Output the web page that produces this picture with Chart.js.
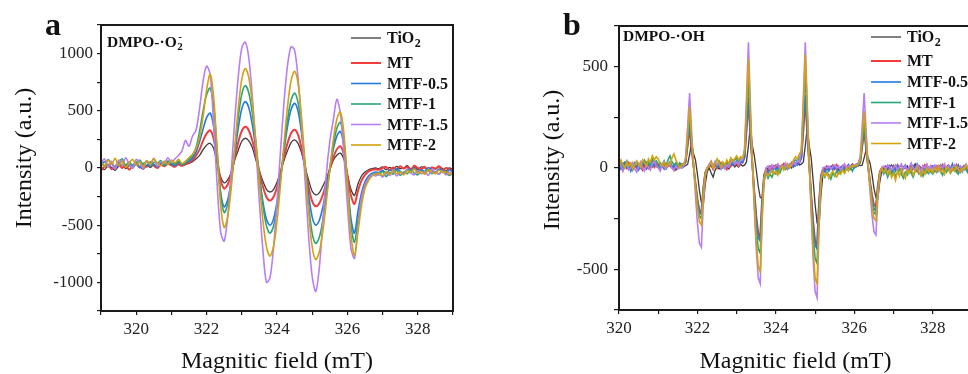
<!DOCTYPE html>
<html>
<head>
<meta charset="utf-8">
<script src="https://cdn.jsdelivr.net/npm/chart.js@4.4.1/dist/chart.umd.min.js"></script>
<style>
  html, body { margin: 0; padding: 0; background: #fff; overflow: hidden; }
  body { width: 968px; height: 374px; position: relative; }
  canvas { position: absolute; top: 0; }
  #chartA { left: 0; }
  #chartB { left: 484px; }
</style>
</head>
<body>
<canvas id="chartA" width="484" height="374"></canvas>
<canvas id="chartB" width="500" height="374"></canvas>
<script>
// EPR spectra, DMPO spin trapping
const samples = ['TiO2', 'MT', 'MTF-0.5', 'MTF-1', 'MTF-1.5', 'MTF-2'];
const colors = ['#3b3b3b', '#f23c3c', '#2479e3', '#27a57c', '#b87ff2', '#d3a20c'];
const widths = [1.3, 2, 1.6, 1.6, 1.6, 1.6];

// panel a: DMPO-·O2-, 319..329 mT every 0.1 mT
const fieldStartA = 319;
const fieldStepA = 0.1;
const yTicksA = [-1000, -500, 0, 500, 1000];

const tio2A = [
  10, -15, 25, 5, -20, 15, 30, -5, 20, 0,
  35, 10, -10, 25, 5, 30, 15, 40, 20, 35,
  25, 45, 30, 20, 30, 40, 55, 80, 110, 160,
  200, 216, 172, 38, -79, -130, -104, -40, 72, 155,
  234, 260, 237, 178, 70, -27, -115, -187, -210, -188,
  -124, -33, 68, 152, 222, 245, 213, 131, 5, -108,
  -203, -235, -217, -160, -93, -12, 68, 112, 130, 76,
  -55, -186, -240, -140, -70, -35, -15, -5, 0, -5,
  10, -15, 5, -10, 15, -5, 0, 20, -10, 5,
  -15, 10, 0, -20, 5, -10, 15, -5, -25, 0,
  -15
];
const mtA = [
  -20, 10, 30, -10, 15, 40, 0, 25, -15, 20,
  35, 5, 30, 10, 45, 20, 0, 30, 15, 40,
  25, 10, 35, 20, 35, 50, 70, 110, 160, 240,
  300, 330, 255, 75, -105, -180, -144, -45, 90, 225,
  324, 360, 328, 238, 109, -34, -163, -253, -285, -254,
  -168, -44, 94, 218, 304, 335, 290, 168, 0, -168,
  -290, -335, -309, -236, -131, -14, 91, 164, 190, 116,
  -62, -241, -315, -200, -110, -60, -30, -15, -10, -15,
  0, 10, -20, 5, -10, 15, -5, 10, -15, 20,
  0, -10, 10, -25, 5, -5, 15, -20, 0, -10,
  -30
];
const mtf05A = [
  30, 55, 10, 40, -5, 35, 60, 15, 45, 25,
  50, 5, 40, 20, 55, 30, 10, 45, 25, 60,
  35, 20, 50, 30, 45, 60, 90, 140, 230, 340,
  440, 480, 360, 70, -220, -340, -278, -110, 120, 350,
  518, 580, 527, 376, 160, -80, -296, -447, -500, -447,
  -299, -86, 151, 364, 512, 565, 494, 299, 33, -234,
  -429, -500, -459, -345, -181, 1, 165, 279, 320, 190,
  -125, -440, -570, -380, -220, -120, -70, -45, -35, -40,
  -20, -50, -15, -35, -5, -30, -45, -10, -25, 0,
  -35, -15, -30, 5, -20, -40, -10, -25, -45, -15,
  -35
];
const mtf1A = [
  60, 20, 75, 35, 10, 50, 80, 25, 55, 5,
  45, 70, 30, 60, 15, 50, 40, 65, 20, 55,
  45, 30, 60, 30, 50, 75, 110, 180, 320, 500,
  640, 700, 540, 155, -230, -390, -316, -113, 165, 443,
  646, 720, 656, 477, 219, -69, -327, -506, -570, -509,
  -339, -94, 179, 424, 594, 655, 567, 326, -3, -331,
  -572, -660, -608, -460, -248, -12, 200, 348, 400, 246,
  -125, -496, -650, -460, -270, -150, -90, -60, -50, -60,
  -30, -75, -40, -55, -20, -65, -35, -50, -15, -45,
  -60, -25, -40, -10, -50, -30, -55, -20, -45, -65,
  -35
];
const mtf15A = [
  40, 80, 10, 60, -10, 70, 20, 90, 35, 0,
  75, 45, -5, 60, 30, 85, 15, 55, 40, 90,
  50, 80, 110, 150, 240, 190, 280, 330, 520, 760,
  890, 820, 380, -150, -560, -640, -420, -30, 420, 800,
  1050, 1100, 960, 620, 180, -300, -720, -1000, -960, -700,
  -300, 150, 580, 900, 1060, 1030, 780, 360, -120, -600,
  -950, -1080, -880, -480, -60, 230, 420, 600, 480, 120,
  -320, -700, -790, -520, -260, -150, -90, -60, -70, -50,
  -80, -35, -65, -25, -70, -40, -55, -15, -45, -60,
  -20, -50, -30, -65, -10, -40, -55, -25, -60, -35,
  -70
];
const mtf2A = [
  50, 10, 70, 30, 85, 20, 60, 5, 45, 75,
  25, 55, 10, 65, 35, 80, 40, 20, 60, 30,
  70, 45, 75, 40, 60, 90, 120, 170, 270, 450,
  680, 820, 624, 150, -324, -520, -427, -173, 175, 523,
  777, 870, 789, 561, 233, -133, -461, -689, -770, -690,
  -466, -143, 218, 541, 765, 845, 735, 434, 23, -389,
  -690, -800, -736, -557, -299, -11, 247, 426, 490, 306,
  -138, -581, -765, -560, -330, -180, -110, -70, -55, -45,
  -65, -30, -55, -20, -50, -35, -60, -25, -40, -10,
  -45, -30, -55, -15, -35, -50, -20, -40, -30, -55,
  -45
];

// panel b: DMPO-·OH, 320..329 mT every 0.05 mT (one row = 1 mT)
const fieldStartB = 320;
const fieldStepB = 0.05;
const yTicksB = [-500, 0, 500];

const tio2B = [
  10, -5, 15, 0, 20, 5, -10, 10, 25, 0, -5, 15, 5, 20, -5, 10, 0, 15, 25, 5,
  10, 0, 15, 5, -5, 20, 10, 0, 15, -10, 5, 10, 0, 5, 12, 18, 66, 125, 70, 40,
  -30, -110, -170, -180, -80, -18, 0, -25, -45, -10, 5, -5, 10, 0, 15, 5, -5, 10, 20, 5,
  15, 5, 20, 10, 14, 30, 110, 210, 110, 60, -10, -90, -145, -150, -70, -15, 0, 10, -5, 5,
  15, 0, 10, 5, 20, -5, 10, 15, 0, 20, 10, 25, 15, 19, 30, 110, 200, 110, 50, -60,
  -180, -270, -290, -130, -30, 0, 10, -5, 5, 15, 0, 10, -10, 5, 0, 15, 5, -5, 10, 20,
  10, 5, 15, 12, 14, 50, 90, 50, 25, -30, -100, -145, -150, -68, -15, 0, 10, -5, 5, 15,
  0, 10, -10, 5, 15, -5, 0, 10, -15, 5, 0, 20, -5, 10, 0, -10, 5, 15, -5, 0,
  10, -5, 5, -15, 0, 10, -10, 5, 15, 0, -5, 10, -20, 0, 5, -10, 10, 0, -5, 5,
  0
];
const mtB = [
  5, 20, -10, 15, 0, 25, 10, -5, 15, 0, 20, 5, -10, 10, 25, 0, 15, 30, 5, 20,
  10, -5, 15, 25, 0, 10, 20, 5, -10, 15, 0, 10, 20, 14, 30, 110, 200, 100, 10, -77,
  -154, -209, -220, -99, -22, 0, 5, 15, -5, 20, 0, 10, 25, 5, 15, -5, 20, 10, 30, 15,
  25, 10, 30, 27, 50, 182, 330, 165, 17, -119, -238, -323, -340, -153, -34, -5, -15, 5, -10, 10,
  0, 15, -5, 10, 20, 0, 15, 5, 25, 10, 20, 30, 27, 51, 187, 340, 170, 17, -133, -266,
  -361, -380, -171, -38, -5, -15, 5, -10, 0, 10, -5, 15, 0, -10, 10, 5, -5, 15, 0, 10,
  5, 15, 14, 29, 105, 190, 95, 10, -67, -133, -181, -190, -86, -19, 0, 5, -10, 10, 0, -15,
  10, -5, 15, 0, -20, 5, 10, -10, 0, 15, -5, 5, -15, 10, 0, -10, 15, 5, -5, 10,
  0, -15, 10, 5, -10, 15, 0, -5, 10, -20, 5, 0, 15, -10, 5, -5, 10, 0, -15, 5,
  0
];
const mtf05B = [
  15, -5, 20, 30, 0, 15, -15, 10, 25, 5, -10, 20, 10, 30, 0, 15, 25, 5, 20, 10,
  5, 25, 10, -5, 20, 15, 30, 10, 0, 20, 10, 25, 5, 14, 33, 121, 220, 110, 11, -81,
  -161, -219, -230, -104, -23, 0, 10, 20, 0, 25, 5, 15, -5, 20, 10, 30, 5, 25, 15, 20,
  35, 15, 30, 27, 53, 193, 350, 175, 18, -126, -252, -342, -360, -162, -36, -10, -25, -5, -20, 0,
  -10, 5, -15, 10, 0, 15, -5, 10, 20, 5, 25, 15, 27, 54, 198, 360, 180, 18, -140, -280,
  -380, -400, -180, -40, -10, -20, 0, -15, 5, -10, 10, -5, -20, 0, 10, -10, 5, 15, -5, 10,
  0, 15, 10, 30, 110, 200, 100, 10, -74, -147, -200, -210, -95, -21, 0, -15, 5, -10, 10, -20,
  5, -15, 10, -5, -25, 0, 15, -10, 5, -20, 10, -5, 20, 0, -15, 10, -10, 5, -25, 0,
  10, -5, -20, 5, 15, -10, 0, -15, 10, -5, 20, -10, 0, 15, -20, 5, -5, 10, -15, 0,
  5
];
const mtf1B = [
  10, 25, 0, 15, 35, 5, 20, -10, 10, 30, 15, 0, 25, 40, 15, 30, 10, 45, 25, 35,
  20, 0, 15, 35, 10, 40, 60, 30, 15, 25, 5, 20, 10, 15, 39, 143, 260, 130, 13, -88,
  -175, -238, -250, -113, -25, 0, 15, 25, 5, 30, 10, 35, 15, 20, 5, 30, 15, 35, 25, 40,
  50, 30, 45, 39, 68, 248, 450, 225, 23, -147, -294, -399, -420, -189, -42, -25, -50, -30, -45, -20,
  -30, -10, -25, 0, 10, -5, 15, 5, 20, 30, 40, 35, 49, 71, 259, 470, 235, 24, -165, -329,
  -447, -470, -212, -47, -25, -45, -20, -35, -55, -25, -40, -15, -30, -20, -5, -25, 0, -10, 5, -15,
  5, 15, 15, 35, 127, 230, 115, 12, -81, -161, -219, -230, -104, -23, -5, -30, -15, -45, -20, -35,
  -15, -40, -25, -5, -30, -50, -20, -35, -10, -25, -45, -15, -5, -30, -20, -40, -10, -25, 0, -20,
  -30, -10, -20, 5, -15, -35, -5, -20, 0, -25, -10, 10, -15, -30, -5, -20, 5, -10, -25, -5,
  -15
];
const mtf15B = [
  30, 10, -15, 5, 20, -10, 0, 25, -5, -20, 10, 30, 0, -15, 15, 5, -10, 20, 35, 10,
  0, -15, 20, 5, -5, 15, 25, 0, -10, 10, -5, 5, 0, 7, 56, 204, 370, 185, 19, -137,
  -273, -371, -390, -176, -39, 0, 20, 35, 10, 30, 15, 25, 0, 10, -5, 15, 5, 25, 40, 20,
  30, 15, 40, 40, 93, 341, 620, 310, 31, -200, -399, -542, -570, -257, -57, 0, 10, -5, 15, 0,
  10, 20, -5, 15, 5, 25, 0, 20, 10, 30, 15, 35, 30, 93, 341, 620, 310, 31, -224, -448,
  -608, -640, -288, -64, 0, 5, 0, 10, -5, 5, 15, 0, 10, -10, 5, 20, 0, 10, 5, 15,
  10, 20, 25, 56, 204, 370, 185, 19, -116, -231, -314, -330, -149, -33, 0, 10, -5, 15, 5, -10,
  0, 15, -10, 5, 20, -5, 10, -15, 5, 25, 0, -10, 15, 5, -20, 10, 0, 20, -5, 10,
  -10, 15, 5, -15, 10, 0, 20, -5, 10, -10, 5, 15, -5, 0, 10, -15, 5, 20, 0, -10,
  5
];
const mtf2B = [
  20, 40, 15, 0, 30, 10, 25, -5, 15, 35, 20, 5, 40, 25, 10, 45, 30, 60, 40, 55,
  45, 20, 10, 30, 5, 25, 15, 50, 70, 40, 20, 0, 15, 21, 45, 165, 300, 150, 15, -98,
  -196, -266, -280, -126, -28, 0, 10, 30, 0, 20, 45, 25, 5, 30, 15, 40, 20, 50, 35, 45,
  60, 40, 55, 50, 81, 297, 540, 270, 27, -179, -357, -485, -510, -230, -51, -20, -40, -25, -10, -30,
  -15, -35, -5, 10, -10, 5, 20, 0, 15, 40, 55, 45, 70, 84, 308, 560, 280, 28, -200, -399,
  -542, -570, -257, -57, -20, -40, -25, -50, -30, -15, -35, -45, -20, -30, -10, -25, 0, -15, 10, 5,
  15, 10, 20, 42, 154, 280, 140, 14, -91, -182, -247, -260, -117, -26, 0, -20, -5, -30, -10, -45,
  -25, -60, -15, -40, -5, -30, -50, -10, -25, 0, -35, -15, 5, -20, -40, -10, -30, 0, -20, -5,
  -25, 0, -15, 10, -20, -5, -30, 5, -10, -25, 0, -15, 10, -5, -20, 0, -10, 15, -5, -15,
  -10
];

const SERIF = '"Liberation Serif", "Times New Roman", serif';
const INK = '#1a1a1a';

// writes text, with a trailing digit after "O" as a subscript
function drawChemLabel(ctx, text, x, y, size, sup) {
  const m = text.match(/^(.*O)(\d)$/);
  const main = m ? m[1] : text;
  ctx.font = 'bold ' + size + 'px ' + SERIF;
  ctx.fillText(main, x, y);
  if (!m) return;
  const w = ctx.measureText(main).width;
  ctx.font = 'bold ' + Math.round(size * 0.72) + 'px ' + SERIF;
  ctx.fillText(m[2], x + w + 0.5, y + size * 0.28);
  if (sup) ctx.fillText(sup, x + w + 1.5, y - size * 0.38);
}

const panelDecor = {
  id: 'panelDecor',
  afterDraw(chart, args, opts) {
    const ctx = chart.ctx;
    const a = chart.chartArea;
    ctx.save();

    // frame round the plot
    ctx.strokeStyle = INK;
    ctx.lineWidth = 2;
    ctx.strokeRect(a.left, a.top, a.right - a.left, a.bottom - a.top);

    ctx.fillStyle = '#111';
    ctx.textBaseline = 'alphabetic';
    ctx.textAlign = 'left';
    ctx.font = 'bold 32px ' + SERIF;
    ctx.fillText(opts.letter, opts.letterX, 35);

    // axis titles
    ctx.font = '24px ' + SERIF;
    ctx.textAlign = 'center';
    ctx.fillText('Magnitic field (mT)', (a.left + a.right) / 2, 368);
    ctx.save();
    ctx.translate(opts.yTitleX, opts.yTitleY);
    ctx.rotate(-Math.PI / 2);
    ctx.fillText('Intensity (a.u.)', 0, 0);
    ctx.restore();

    // spin adduct note
    ctx.textAlign = 'left';
    ctx.textBaseline = 'middle';
    drawChemLabel(ctx, opts.note, opts.noteX, opts.noteY, 15.5, opts.noteSup);

    // legend
    samples.forEach((name, i) => {
      const y = opts.legendY[i];
      ctx.strokeStyle = colors[i];
      ctx.lineWidth = widths[i];
      ctx.beginPath();
      ctx.moveTo(opts.legendX, y);
      ctx.lineTo(opts.legendX + 30, y);
      ctx.stroke();
      ctx.fillStyle = '#111';
      drawChemLabel(ctx, name, opts.legendX + 36, y + 1, 16);
    });
    ctx.restore();
  }
};

function buildPanel(canvasId, cfg) {
  const datasets = cfg.series.map((values, i) => ({
    label: samples[i],
    data: values.map((v, k) => ({ x: +(cfg.start + k * cfg.step).toFixed(2), y: v })),
    borderColor: colors[i],
    borderWidth: widths[i],
    pointRadius: 0,
    fill: false,
    tension: cfg.tension,
    order: samples.length - 1 - i
  }));

  const tickFont = { family: SERIF, size: 17 };

  return new Chart(document.getElementById(canvasId), {
    type: 'line',
    data: { datasets },
    options: {
      responsive: false,
      animation: false,
      events: [],
      layout: { padding: cfg.padding },
      plugins: {
        legend: { display: false },
        tooltip: { enabled: false },
        panelDecor: cfg.decor
      },
      scales: {
        x: {
          type: 'linear',
          min: cfg.xMin,
          max: cfg.xMax,
          border: { display: false },
          grid: { drawOnChartArea: false, drawTicks: true, tickLength: 4, color: INK, lineWidth: 1.2 },
          ticks: {
            stepSize: 1,
            autoSkip: false,
            maxRotation: 0,
            padding: 4,
            color: '#222',
            font: tickFont,
            callback: (v) => (v % 2 === 0 ? String(v) : '')
          },
          afterFit: (scale) => { scale.height = cfg.xAxisHeight; }
        },
        y: {
          min: cfg.yMin,
          max: cfg.yMax,
          border: { display: false },
          grid: { drawOnChartArea: false, drawTicks: true, tickLength: cfg.yTickLength, color: INK, lineWidth: 1.2 },
          ticks: {
            stepSize: 250,
            autoSkip: false,
            padding: cfg.yTickPadding,
            color: '#222',
            font: tickFont,
            callback: (v) => (cfg.yLabels.includes(v) ? String(v) : '')
          },
          afterFit: (scale) => { scale.width = cfg.yAxisWidth; }
        }
      }
    },
    plugins: [panelDecor]
  });
}

const tallyA = buildPanel('chartA', {
  series: [tio2A, mtA, mtf05A, mtf1A, mtf15A, mtf2A],
  start: fieldStartA, step: fieldStepA, tension: 0.3,
  xMin: 319, xMax: 329, yMin: -1250, yMax: 1250, yLabels: yTicksA,
  padding: { top: 25, right: 31, left: 0, bottom: 0 },
  yAxisWidth: 101, xAxisHeight: 63, yTickLength: 4, yTickPadding: 4,
  decor: {
    letter: 'a', letterX: 45,
    yTitleX: 31, yTitleY: 158,
    note: 'DMPO-·O2', noteSup: '-', noteX: 107, noteY: 43,
    legendX: 351, legendY: [38, 63, 83.5, 104, 124.5, 145]
  }
});

const tallyB = buildPanel('chartB', {
  series: [tio2B, mtB, mtf05B, mtf1B, mtf15B, mtf2B],
  start: fieldStartB, step: fieldStepB, tension: 0,
  xMin: 320, xMax: 329, yMin: -700, yMax: 700, yLabels: yTicksB,
  padding: { top: 26, right: 12, left: 0, bottom: 0 },
  yAxisWidth: 135, xAxisHeight: 64, yTickLength: 5, yTickPadding: 6,
  decor: {
    letter: 'b', letterX: 79,
    yTitleX: 75, yTitleY: 160,
    note: 'DMPO-·OH', noteSup: '', noteX: 139, noteY: 37,
    legendX: 387, legendY: [37, 61, 82, 102.5, 123, 143.5]
  }
});
</script>
</body>
</html>
